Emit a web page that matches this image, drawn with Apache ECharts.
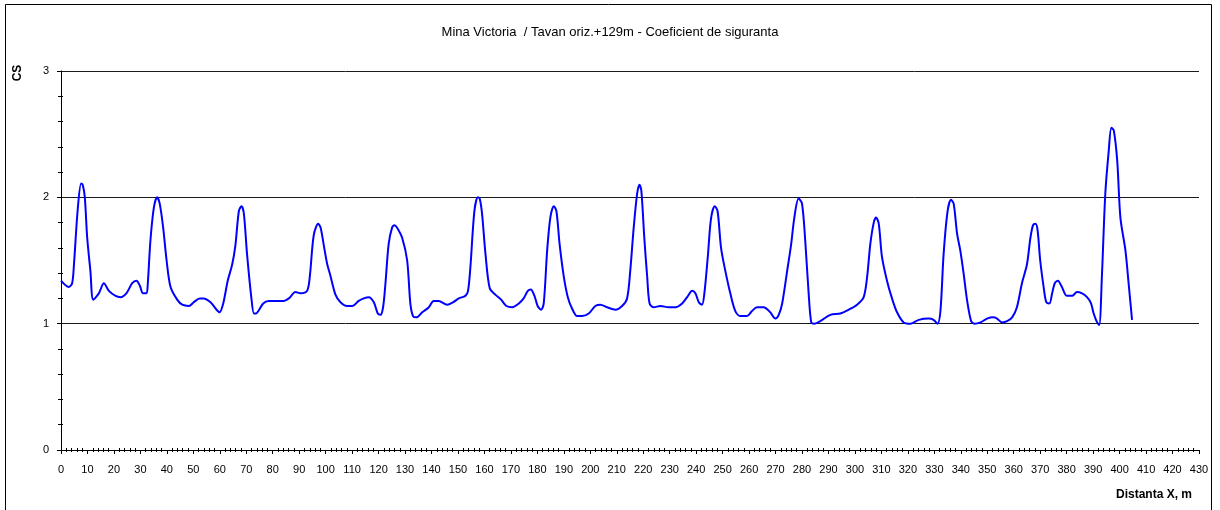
<!DOCTYPE html>
<html>
<head>
<meta charset="utf-8">
<title>Mina Victoria - Coeficient de siguranta</title>
<script src="https://cdn.jsdelivr.net/npm/echarts@6/dist/echarts.min.js"></script>
<style>
  html, body { margin: 0; padding: 0; background: #fff; }
  #chart { width: 1220px; height: 510px; }
</style>
</head>
<body>
<div id="chart"></div>
<script>
// Distanta X (m) along the roof line and the safety coefficient CS at each point
const distances = [
  0, 2.9, 4.2, 4.9, 6.3, 7.6, 8.2, 9.0, 9.9, 11.1, 12.2, 14.3, 16.2, 18.1, 20.6, 22.5, 24.7, 26.9, 28.5, 29.8,
  31.0, 32.3, 32.8, 33.8, 35.1, 36.3, 37.3, 38.6, 39.9, 41.4, 43.9, 45.8, 48.3, 50.2, 52.4, 53.9, 56.5, 58.4, 59.9, 61.3,
  63.0, 64.7, 65.9, 67.2, 68.2, 69.1, 70.3, 71.9, 72.9, 73.6, 76.4, 78.5, 81.6, 84.2, 86.1, 88.6, 90.5, 93.0, 94.0, 95.5,
  97.2, 98.1, 99.3, 100.6, 101.8, 103.7, 105.6, 108.1, 110.0, 112.5, 114.4, 116.3, 118.2, 119.7, 120.7, 121.7, 122.6, 123.8, 125.1, 126.0,
  127.0, 128.9, 130.8, 132.0, 133.0, 134.3, 136.5, 139.0, 140.8, 142.7, 145.9, 148.2, 150.3, 152.8, 153.8, 154.7, 156.2, 157.5, 158.2, 159.1,
  160.4, 162.0, 164.1, 166.3, 168.3, 170.5, 173.0, 174.8, 176.4, 177.5, 178.9, 180.1, 181.4, 182.4, 183.7, 184.9, 186.2, 187.2, 188.4, 190.0,
  191.5, 193.1, 195.0, 196.9, 199.4, 201.9, 203.8, 206.3, 209.5, 212.0, 213.9, 215.1, 216.4, 217.7, 218.6, 219.3, 220.4, 221.5, 222.4, 224.0,
  226.5, 229.6, 232.2, 234.7, 236.6, 238.5, 239.7, 241.0, 242.2, 243.1, 244.4, 245.6, 247.0, 248.1, 249.4, 251.0, 252.9, 254.8, 256.7, 259.2,
  261.1, 263.0, 265.5, 268.0, 269.9, 271.2, 272.5, 274.4, 275.9, 277.1, 278.7, 280.0, 281.3, 282.5, 283.5, 284.7, 286.9, 290.7, 294.5, 297.6,
  300.8, 303.3, 304.6, 305.8, 307.1, 308.0, 309.0, 310.2, 312.1, 314.0, 315.9, 318.4, 321.0, 324.1, 327.9, 329.7, 331.2, 332.3, 333.5, 335.0,
  336.3, 337.3, 338.6, 339.8, 341.1, 342.4, 343.9, 345.1, 347.4, 349.9, 352.2, 353.7, 355.6, 357.5, 359.4, 361.2, 363.1, 365.0, 366.3, 367.3,
  368.2, 369.0, 370.0, 371.3, 372.3, 373.5, 374.5, 375.5, 376.7, 378.2, 380.1, 382.0, 383.9, 385.8, 387.7, 389.2, 390.2, 391.5, 392.3, 393.3,
  394.6, 395.9, 396.9, 397.8, 399.1, 400.3, 402.2, 403.4, 404.7
];
const csValues = [
  1.34, 1.29, 1.32, 1.47, 1.90, 2.11, 2.10, 2.00, 1.68, 1.42, 1.19, 1.24, 1.32, 1.26, 1.22, 1.21, 1.24, 1.32, 1.34, 1.30,
  1.24, 1.24, 1.32, 1.66, 1.92, 2.00, 1.95, 1.76, 1.50, 1.29, 1.19, 1.15, 1.14, 1.17, 1.20, 1.20, 1.17, 1.12, 1.09, 1.16,
  1.34, 1.47, 1.62, 1.89, 1.93, 1.87, 1.55, 1.21, 1.08, 1.08, 1.16, 1.18, 1.18, 1.18, 1.20, 1.25, 1.24, 1.26, 1.37, 1.70,
  1.79, 1.76, 1.62, 1.47, 1.38, 1.23, 1.17, 1.14, 1.14, 1.18, 1.20, 1.21, 1.17, 1.08, 1.07, 1.13, 1.32, 1.63, 1.76, 1.78,
  1.76, 1.68, 1.50, 1.16, 1.06, 1.05, 1.09, 1.13, 1.18, 1.18, 1.15, 1.17, 1.20, 1.22, 1.26, 1.45, 1.89, 2.00, 1.99, 1.87,
  1.55, 1.28, 1.23, 1.19, 1.14, 1.13, 1.16, 1.20, 1.26, 1.27, 1.22, 1.14, 1.11, 1.16, 1.58, 1.84, 1.93, 1.89, 1.63, 1.37,
  1.21, 1.12, 1.06, 1.06, 1.08, 1.14, 1.15, 1.13, 1.11, 1.14, 1.20, 1.42, 1.76, 2.03, 2.10, 2.05, 1.68, 1.37, 1.16, 1.13,
  1.14, 1.13, 1.13, 1.16, 1.21, 1.26, 1.24, 1.17, 1.15, 1.24, 1.53, 1.83, 1.93, 1.89, 1.60, 1.42, 1.24, 1.10, 1.06, 1.06,
  1.10, 1.13, 1.13, 1.09, 1.04, 1.07, 1.16, 1.42, 1.63, 1.84, 1.99, 1.95, 1.63, 1.24, 1.01, 1.00, 1.02, 1.07, 1.08, 1.11,
  1.15, 1.21, 1.37, 1.63, 1.80, 1.84, 1.79, 1.53, 1.34, 1.20, 1.09, 1.01, 1.00, 1.03, 1.04, 1.03, 1.00, 1.10, 1.55, 1.89,
  1.98, 1.95, 1.71, 1.58, 1.39, 1.18, 1.02, 1.00, 1.01, 1.04, 1.05, 1.04, 1.01, 1.02, 1.05, 1.13, 1.32, 1.47, 1.68, 1.78,
  1.79, 1.74, 1.50, 1.29, 1.17, 1.16, 1.24, 1.32, 1.34, 1.29, 1.22, 1.22, 1.25, 1.24, 1.21, 1.16, 1.08, 1.01, 0.99, 1.37,
  2.03, 2.37, 2.55, 2.53, 2.29, 1.84, 1.58, 1.32, 1.03
];
const chartTitle = 'Mina Victoria  / Tavan oriz.+129m - Coeficient de siguranta';
const yAxisTitle = 'CS';
const xAxisTitle = 'Distanta X, m';

const FONT = '"Liberation Sans", Arial, sans-serif';
const seriesData = distances.map((d, i) => [d, csValues[i]]);

const chart = echarts.init(document.getElementById('chart'), null, { renderer: 'canvas' });

const baseX = { type: 'value', min: 0, max: 430, interval: 10, gridIndex: 0 };
const baseY = { type: 'value', min: 0, max: 3, interval: 1, gridIndex: 0 };

chart.setOption({
  animation: false,
  backgroundColor: '#ffffff',
  title: {
    text: chartTitle,
    left: 'center',
    top: 21,
    textStyle: { fontFamily: FONT, fontSize: 13, fontWeight: 'normal', color: '#000' }
  },
  grid: { left: 61, right: 21, top: 71, bottom: 60, containLabel: false },
  xAxis: [
    Object.assign({}, baseX, {
      position: 'bottom',
      axisLine: { show: true, lineStyle: { color: '#000', width: 1 } },
      axisTick: { show: true, length: 4, lineStyle: { color: '#000' } },
      minorTick: { show: true, splitNumber: 5, length: 2, lineStyle: { color: '#000' } },
      axisLabel: { color: '#000', fontFamily: FONT, fontSize: 11, margin: 14 },
      splitLine: { show: false }
    }),
    // second copy of the axis only to draw the inner half of the crossing minor ticks
    Object.assign({}, baseX, {
      position: 'bottom',
      axisLine: { show: false },
      axisTick: { show: false, inside: true },
      minorTick: { show: true, splitNumber: 5, length: 2, lineStyle: { color: '#000' } },
      axisLabel: { show: false },
      splitLine: { show: false }
    })
  ],
  yAxis: [
    Object.assign({}, baseY, {
      position: 'left',
      axisLine: { show: true, lineStyle: { color: '#000', width: 1 } },
      axisTick: { show: true, length: 4, lineStyle: { color: '#000' } },
      minorTick: { show: true, splitNumber: 5, length: 3, lineStyle: { color: '#000' } },
      axisLabel: { color: '#000', fontFamily: FONT, fontSize: 11, margin: 12 },
      splitLine: { show: true, lineStyle: { color: '#1a1a1a', width: 1 } }
    }),
    Object.assign({}, baseY, {
      position: 'left',
      axisLine: { show: false },
      axisTick: { show: false, inside: true },
      minorTick: { show: true, splitNumber: 5, length: 2, lineStyle: { color: '#000' } },
      axisLabel: { show: false },
      splitLine: { show: false }
    })
  ],
  series: [{
    type: 'line',
    xAxisIndex: 0,
    yAxisIndex: 0,
    data: seriesData,
    smooth: 0.3,
    showSymbol: false,
    lineStyle: { color: '#0000ff', width: 2 },
    z: 5
  }],
  graphic: [
    {
      type: 'rect',
      shape: { x: 5.5, y: 4.5, width: 1206, height: 520 },
      style: { fill: 'none', stroke: '#000', lineWidth: 1 },
      silent: true
    },
    {
      type: 'text',
      x: 18, y: 73,
      rotation: Math.PI / 2,
      style: {
        text: yAxisTitle,
        font: 'bold 12px ' + FONT,
        fill: '#000',
        align: 'center',
        verticalAlign: 'middle'
      }
    },
    {
      type: 'text',
      x: 1192, y: 495,
      style: {
        text: xAxisTitle,
        font: 'bold 12px ' + FONT,
        fill: '#000',
        align: 'right',
        verticalAlign: 'middle'
      }
    }
  ]
});
</script>
</body>
</html>
